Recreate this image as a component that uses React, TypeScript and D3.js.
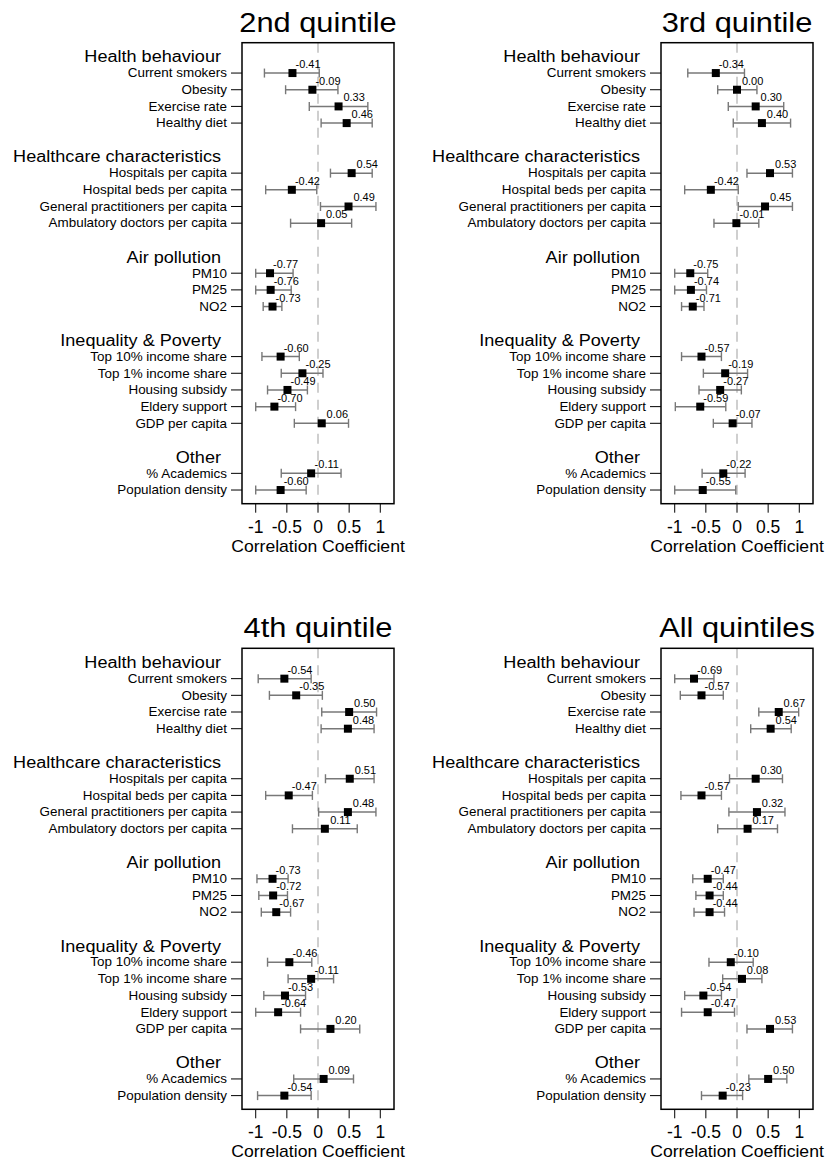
import React from "react";
import * as d3 from "d3";

const groups = ["Health behaviour", "Healthcare characteristics", "Air pollution", "Inequality & Poverty", "Other"];
const groupRows = [0, 6, 12, 17, 24];

const items = [
  "Current smokers", "Obesity", "Exercise rate", "Healthy diet",
  "Hospitals per capita", "Hospital beds per capita", "General practitioners per capita", "Ambulatory doctors per capita",
  "PM10", "PM25", "NO2",
  "Top 10% income share", "Top 1% income share", "Housing subsidy", "Eldery support", "GDP per capita",
  "% Academics", "Population density",
];
const itemRows = [1, 2, 3, 4, 7, 8, 9, 10, 13, 14, 15, 18, 19, 20, 21, 22, 25, 26];

const titles = ["2nd quintile", "3rd quintile", "4th quintile", "All quintiles"];

// correlation coefficients with lower / upper bounds, one array per panel
const q2 = [-0.41, -0.09, 0.33, 0.46, 0.54, -0.42, 0.49, 0.05, -0.77, -0.76, -0.73, -0.6, -0.25, -0.49, -0.7, 0.06, -0.11, -0.6];
const q2Lo = [-0.86, -0.52, -0.14, 0.05, 0.2, -0.84, 0.04, -0.44, -1.0, -1.0, -0.88, -0.9, -0.59, -0.81, -1.0, -0.38, -0.59, -1.0];
const q2Hi = [0.02, 0.32, 0.8, 0.87, 0.87, -0.02, 0.93, 0.54, -0.4, -0.43, -0.58, -0.3, 0.08, -0.17, -0.36, 0.49, 0.37, -0.19];

const q3 = [-0.34, 0.0, 0.3, 0.4, 0.53, -0.42, 0.45, -0.01, -0.75, -0.74, -0.71, -0.57, -0.19, -0.27, -0.59, -0.07, -0.22, -0.55];
const q3Lo = [-0.79, -0.31, -0.14, -0.06, 0.16, -0.84, 0.02, -0.37, -1.0, -1.0, -0.89, -0.89, -0.54, -0.61, -0.99, -0.38, -0.56, -1.0];
const q3Hi = [0.12, 0.32, 0.75, 0.86, 0.89, 0.02, 0.89, 0.35, -0.47, -0.49, -0.53, -0.25, 0.17, 0.07, -0.18, 0.24, 0.13, -0.02];

const q4 = [-0.54, -0.35, 0.5, 0.48, 0.51, -0.47, 0.48, 0.11, -0.73, -0.72, -0.67, -0.46, -0.11, -0.53, -0.64, 0.2, 0.09, -0.54];
const q4Lo = [-0.96, -0.78, 0.06, 0.05, 0.12, -0.84, 0.01, -0.41, -0.98, -0.95, -0.91, -0.81, -0.48, -0.87, -1.0, -0.28, -0.39, -0.97];
const q4Hi = [-0.11, 0.07, 0.94, 0.9, 0.9, -0.09, 0.93, 0.63, -0.48, -0.49, -0.44, -0.1, 0.25, -0.2, -0.28, 0.67, 0.57, -0.11];

const all = [-0.69, -0.57, 0.67, 0.54, 0.3, -0.57, 0.32, 0.17, -0.47, -0.44, -0.44, -0.1, 0.08, -0.54, -0.47, 0.53, 0.5, -0.23];
const allLo = [-1.0, -0.91, 0.35, 0.22, -0.12, -0.9, -0.13, -0.31, -0.71, -0.66, -0.69, -0.45, -0.23, -0.84, -0.89, 0.16, 0.19, -0.57];
const allHi = [-0.37, -0.22, 0.99, 0.87, 0.73, -0.25, 0.77, 0.65, -0.22, -0.22, -0.2, 0.26, 0.4, -0.25, -0.04, 0.89, 0.8, 0.09];

const panels = [
  { v: q2, lo: q2Lo, hi: q2Hi },
  { v: q3, lo: q3Lo, hi: q3Hi },
  { v: q4, lo: q4Lo, hi: q4Hi },
  { v: all, lo: allLo, hi: allHi },
];

const FONT = "'Liberation Sans', Arial, Helvetica, sans-serif";
const W = 152;
const H = 461;
const lefts = [242, 661];
const tops = [42.7, 648.3];

// text that is a little wider than Arial, like the original
function T({ x, y, size, sx = 1.12, anchor = "start", children }: any) {
  return (
    <text
      transform={`translate(${x},${y}) scale(${sx},1)`}
      fontSize={size}
      textAnchor={anchor}
      fontFamily={FONT}
      fill="#000"
    >
      {children}
    </text>
  );
}

function Panel({ idx }: { idx: number }) {
  const left = lefts[idx % 2];
  const top = tops[Math.floor(idx / 2)];
  const d = panels[idx];
  const x = d3.scaleLinear().domain([-1.22, 1.22]).range([left, left + W]);
  const y = d3.scaleLinear().domain([-0.82, 26.82]).range([top, top + H]);
  const ticks = x.ticks(5);
  const bottom = top + H;

  return (
    <g>
      <T x={left + W / 2} y={top - 11} size={28} sx={1.1} anchor="middle">{titles[idx]}</T>

      {groups.map((g, i) => (
        <T key={g} x={left - 21} y={y(groupRows[i]) + 6} size={16} sx={1.13} anchor="end">{g}</T>
      ))}
      {items.map((it, i) => (
        <g key={it}>
          <T x={left - 15} y={y(itemRows[i]) + 4.3} size={12} anchor="end">{it}</T>
          <line x1={left - 11} x2={left} y1={y(itemRows[i])} y2={y(itemRows[i])} stroke="#000" strokeWidth={1} />
        </g>
      ))}

      <line x1={x(0)} x2={x(0)} y1={top} y2={bottom} stroke="#c4c4c4" strokeWidth={1.6} strokeDasharray="10,7" />

      {items.map((it, i) => {
        const cy = y(itemRows[i]);
        return (
          <g key={"m" + it}>
            <line x1={x(d.lo[i])} x2={x(d.hi[i])} y1={cy} y2={cy} stroke="#787878" strokeWidth={1.5} />
            <line x1={x(d.lo[i])} x2={x(d.lo[i])} y1={cy - 4.5} y2={cy + 4.5} stroke="#787878" strokeWidth={1.4} />
            <line x1={x(d.hi[i])} x2={x(d.hi[i])} y1={cy - 4.5} y2={cy + 4.5} stroke="#787878" strokeWidth={1.4} />
            <rect x={x(d.v[i]) - 4} y={cy - 4} width={8} height={8} fill="#000" />
            <T x={x(d.v[i] + 0.25)} y={cy - 5} size={10} sx={1.1} anchor="middle">{d.v[i].toFixed(2)}</T>
          </g>
        );
      })}

      <rect x={left} y={top} width={W} height={H} fill="none" stroke="#000" strokeWidth={1.5} />

      {ticks.map((t) => (
        <g key={t}>
          <line x1={x(t)} x2={x(t)} y1={bottom} y2={bottom + 9} stroke="#000" strokeWidth={1} />
          <T x={x(t)} y={bottom + 29} size={17.5} sx={1.0} anchor="middle">{String(t)}</T>
        </g>
      ))}
      <T x={left + W / 2} y={bottom + 48} size={16} sx={1.1} anchor="middle">Correlation Coefficient</T>
    </g>
  );
}

export default function App() {
  return (
    <svg width={829} height={1165} style={{ position: "absolute", left: 0, top: 0, background: "#fff" }}>
      <rect width={829} height={1165} fill="#fff" />
      {[0, 1, 2, 3].map((i) => (
        <Panel key={i} idx={i} />
      ))}
    </svg>
  );
}
